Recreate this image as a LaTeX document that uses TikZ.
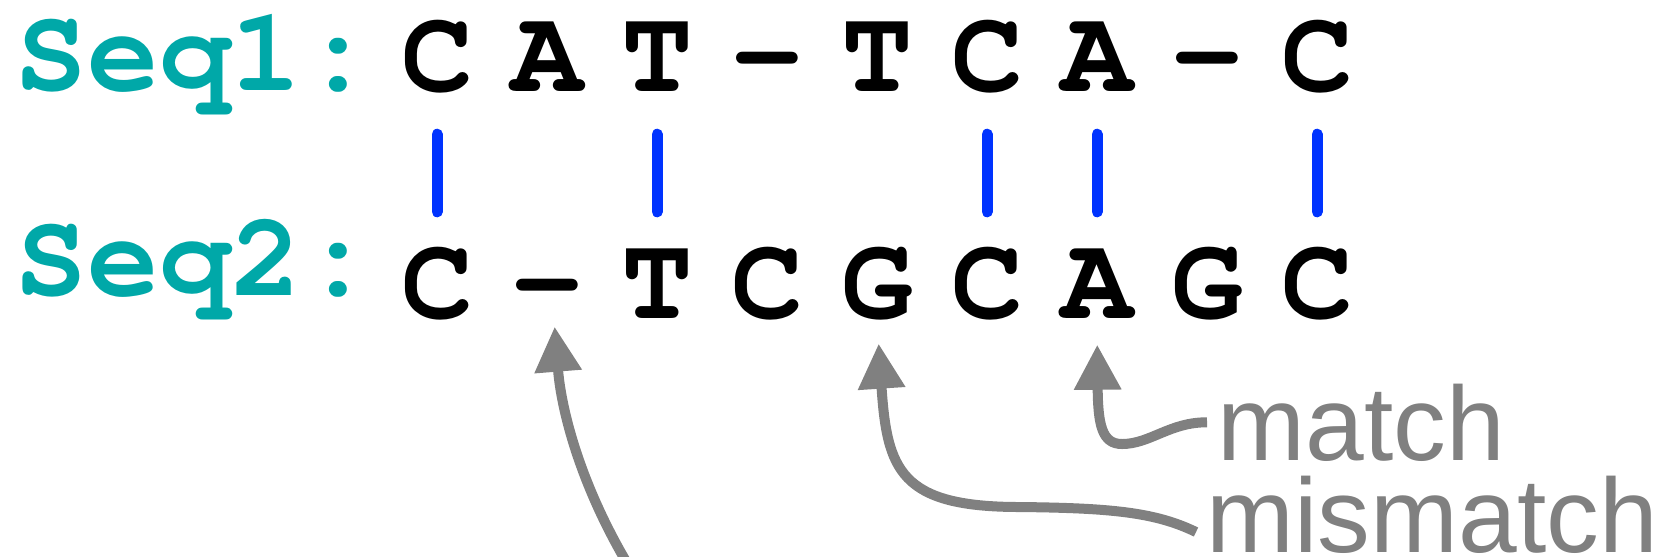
\documentclass[tikz,border=0pt]{standalone}
\usepackage[T1]{fontenc}
\usepackage{fontspec}
\newfontfamily\notefont{Liberation Sans}
\usetikzlibrary{arrows.meta}

\definecolor{seqteal}{RGB}{0,168,168}
\definecolor{barblue}{RGB}{0,51,255}
\definecolor{notegray}{RGB}{128,128,128}

\newcommand{\seqfont}{\fontencoding{T1}\fontfamily{pcr}\fontseries{b}\fontsize{34}{34}\selectfont}

\begin{document}
\begin{tikzpicture}[
    letter/.style={font=\seqfont, inner sep=0pt, anchor=base, text height=0.71cm, text depth=0pt},
    seqname/.style={font=\seqfont, text=seqteal, inner sep=0pt, anchor=base west},
    note/.style={font=\notefont\fontsize{30}{30}\selectfont, text=notegray, inner xsep=1mm, inner ysep=0pt, anchor=base west},
    bar/.style={barblue, line width=0.11cm, line cap=round, shorten <=0.425cm, shorten >=0.345cm},
    pointer/.style={notegray, line width=0.1cm, -{Triangle[length=0.45cm,width=0.45cm]}}
  ]
  \useasboundingbox (0,0) rectangle (16.54,-5.56);
  \clip (0,0) rectangle (16.54,-5.56);

  % sequence names
  \node[seqname] (name1) at (0.15,-0.90) {Seq1:};
  \node[seqname] (name2) at (0.15,-2.95) {Seq2:};

  % aligned letters
  \foreach \c [count=\i] in {C,A,T,-,T,C,A,-,C}
    \node[letter] (top\i) at ({4.37+1.1*(\i-1)},-0.91) {\c};
  \foreach \c [count=\i] in {C,-,T,C,G,C,A,G,C}
    \node[letter] (bot\i) at ({4.37+1.1*(\i-1)},-3.18) {\c};

  % identical columns
  \foreach \i in {1,3,6,7,9}
    \draw[bar] (top\i.south) -- (bot\i.north);

  \node[note] (match) at (12.07,-4.60) {match};
  \node[note] (mismatch) at (11.96,-5.52) {mismatch};

  \draw[pointer, shorten >=0.26cm]
     (match.west) .. controls (11.7,-4.22) and (11.5,-4.44) .. (11.22,-4.44)
     .. controls (11.02,-4.44) and (10.98,-4.25) .. (bot7.south);
  \draw[pointer, shorten >=0.25cm]
     ([yshift=2mm]mismatch.base west) .. controls (11.55,-5.12) and (11.1,-5.08) .. (10.2,-5.07)
     .. controls (9.0,-5.07) and (8.87,-4.7) .. (bot5.south);

  % third pointer leaves the picture at the bottom
  \coordinate (gapend) at (6.65,-6.2);
  \draw[pointer, shorten >=0.08cm]
     (gapend) .. controls (5.9,-5.2) and (5.62,-4.2) .. ([xshift=0.07cm]bot2.south);
\end{tikzpicture}
\end{document}
